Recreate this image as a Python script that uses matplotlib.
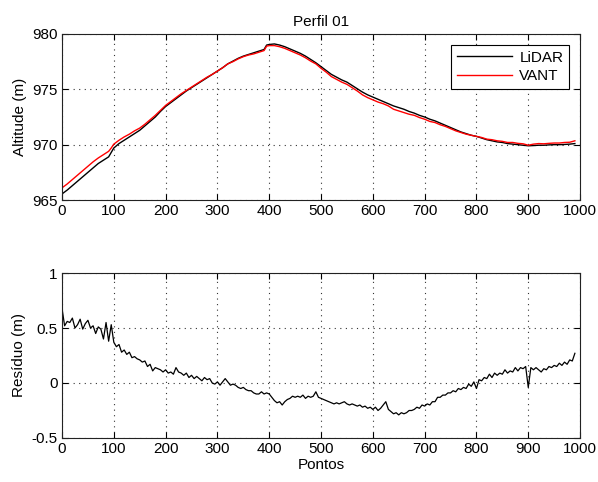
import numpy as np
import matplotlib
matplotlib.use("Agg")
import matplotlib.pyplot as plt

# ---------------- data ----------------
lidar_x = [0, 10, 20, 30, 40, 50, 60, 70, 80, 90, 95, 100, 110, 120, 130, 140, 150, 160, 170, 180, 190,
           200, 210, 220, 230, 240, 250, 260, 270, 280, 290, 300, 310, 320, 330, 340, 350, 360, 370, 380, 390,
           395, 400, 410, 420, 430, 440, 450, 460, 470, 480, 490, 500, 510, 520, 530, 540, 550, 560, 570, 580,
           590, 600, 610, 620, 630, 640, 650, 660, 670, 680, 690, 700, 710, 720, 730, 740, 750, 760, 770, 780,
           790, 800, 810, 820, 830, 840, 850, 860, 870, 880, 890, 900, 910, 920, 930, 940, 950, 960, 970, 980, 990]
lidar_y = [965.55, 965.9, 966.3, 966.7, 967.1, 967.5, 967.9, 968.3, 968.6, 968.9, 969.3, 969.7, 970.1, 970.4,
           970.7, 971.0, 971.3, 971.7, 972.1, 972.5, 973.0,
           973.45, 973.8, 974.15, 974.5, 974.85, 975.15, 975.45, 975.75, 976.05, 976.35, 976.65, 976.95, 977.3,
           977.55, 977.8, 978.0, 978.15, 978.3, 978.45, 978.6,
           979.0, 979.05, 979.1, 979.0, 978.85, 978.65, 978.45, 978.25, 978.0, 977.7, 977.4, 977.05, 976.7,
           976.35, 976.1, 975.85, 975.65, 975.35, 975.05, 974.75,
           974.5, 974.3, 974.1, 973.9, 973.7, 973.5, 973.35, 973.2, 973.0, 972.85, 972.65, 972.5, 972.3, 972.15,
           971.95, 971.75, 971.55, 971.35, 971.15, 971.0,
           970.85, 970.75, 970.6, 970.45, 970.35, 970.25, 970.2, 970.1, 970.05, 970.0, 969.95, 969.9, 969.92,
           969.95, 969.95, 969.98, 970.0, 970.0, 970.02, 970.05, 970.1]

vant_x = lidar_x
vant_y = [966.1, 966.45, 966.85, 967.25, 967.65, 968.05, 968.45, 968.8, 969.1, 969.4, 969.7, 970.05, 970.4,
          970.7, 970.95, 971.25, 971.5, 971.85, 972.25, 972.65, 973.1,
          973.55, 973.9, 974.25, 974.6, 974.9, 975.2, 975.5, 975.8, 976.1, 976.35, 976.65, 976.95, 977.3,
          977.5, 977.75, 977.95, 978.1, 978.2, 978.35, 978.5,
          978.9, 978.95, 978.95, 978.85, 978.7, 978.5, 978.3, 978.1, 977.85, 977.55, 977.3, 976.9, 976.55,
          976.15, 975.9, 975.65, 975.45, 975.15, 974.85, 974.5,
          974.25, 974.05, 973.85, 973.7, 973.5, 973.2, 973.05, 972.9, 972.75, 972.65, 972.45, 972.3, 972.1,
          972.0, 971.8, 971.65, 971.45, 971.25, 971.1, 970.95,
          970.85, 970.75, 970.65, 970.5, 970.45, 970.35, 970.3, 970.2, 970.2, 970.12, 970.08, 969.95, 970.05,
          970.1, 970.08, 970.12, 970.15, 970.15, 970.2, 970.22, 970.35]

residuo = [0.68, 0.52, 0.56, 0.55, 0.59, 0.50, 0.53, 0.58, 0.49, 0.54,
           0.57, 0.50, 0.52, 0.45, 0.51, 0.49, 0.40, 0.55, 0.38, 0.53,
           0.37, 0.33, 0.35, 0.28, 0.30, 0.26, 0.28, 0.23, 0.24, 0.22,
           0.21, 0.19, 0.20, 0.15, 0.17, 0.11, 0.14, 0.13, 0.12, 0.10,
           0.12, 0.09, 0.10, 0.08, 0.14, 0.10, 0.09, 0.07, 0.09, 0.05,
           0.07, 0.04, 0.06, 0.04, 0.02, 0.05, 0.03, 0.04, 0.00, -0.01,
           0.01, -0.02, 0.01, 0.04, 0.01, -0.02, -0.01, -0.02, -0.04, -0.05,
           -0.04, -0.06, -0.07, -0.07, -0.09, -0.10, -0.10, -0.08, -0.10, -0.09,
           -0.10, -0.13, -0.16, -0.18, -0.17, -0.20, -0.17, -0.15, -0.14, -0.12,
           -0.13, -0.12, -0.13, -0.11, -0.14, -0.12, -0.13, -0.12, -0.08, -0.13,
           -0.14, -0.15, -0.16, -0.17, -0.18, -0.19, -0.18, -0.19, -0.18, -0.17,
           -0.19, -0.20, -0.19, -0.20, -0.21, -0.20, -0.22, -0.21, -0.23, -0.22,
           -0.24, -0.22, -0.25, -0.23, -0.20, -0.17, -0.24, -0.26, -0.28, -0.27,
           -0.29, -0.27, -0.28, -0.27, -0.25, -0.25, -0.24, -0.22, -0.23, -0.20,
           -0.21, -0.19, -0.20, -0.17, -0.17, -0.13, -0.13, -0.11, -0.11, -0.09,
           -0.09, -0.07, -0.08, -0.05, -0.06, -0.04, -0.05, -0.01, -0.03, 0.01,
           -0.05, 0.03, 0.02, 0.05, 0.04, 0.08, 0.05, 0.09, 0.07, 0.09,
           0.08, 0.12, 0.09, 0.11, 0.10, 0.14, 0.11, 0.14, 0.13, 0.15,
           -0.04, 0.14, 0.12, 0.14, 0.12, 0.10, 0.13, 0.12, 0.15, 0.14,
           0.16, 0.15, 0.18, 0.16, 0.19, 0.17, 0.21, 0.20, 0.27]
residuo_x = np.arange(len(residuo)) * 5

xticks = [0, 100, 200, 300, 400, 500, 600, 700, 800, 900, 1000]
top_yticks = [965, 970, 975, 980]
bot_yticks = [-0.5, 0, 0.5, 1]

# ---------------- figure ----------------
plt.rcParams['font.family'] = ['Liberation Sans', 'DejaVu Sans']
plt.rcParams['font.size'] = 11

fig = plt.figure(figsize=(5.98, 4.82), dpi=100)
ax1 = fig.add_axes([0.1037, 0.585, 0.8663, 0.3445])
ax2 = fig.add_axes([0.1037, 0.0913, 0.8663, 0.3423])


def style(ax):
    ax.set_xlim(0, 1000)
    ax.set_xticks(xticks)
    ax.grid(True, linestyle=(0, (1, 4)), color='#333333', linewidth=0.8)
    ax.tick_params(direction='in', top=True, right=True, length=4, width=0.8,
                   labelsize=11, pad=3)
    for s in ax.spines.values():
        s.set_linewidth(0.8)
        s.set_color('#222222')


ax1.plot(lidar_x, lidar_y, color='black', linewidth=1.0, label='LiDAR')
ax1.plot(vant_x, vant_y, color='red', linewidth=1.0, label='VANT')
style(ax1)
ax1.set_ylim(965, 980)
ax1.set_yticks(top_yticks)
ax1.set_ylabel('Altitude (m)')
ax1.set_title('Perfil 01', fontsize=11, pad=6)
leg = ax1.legend(loc='upper right', fancybox=False, framealpha=1, edgecolor='black',
                 handlelength=3.6, borderaxespad=0.7, fontsize=11, borderpad=0.4,
                 labelspacing=0.3, handletextpad=0.5)
leg.get_frame().set_linewidth(0.8)

ax2.plot(residuo_x, residuo, color='black', linewidth=0.9)
style(ax2)
ax2.set_ylim(-0.5, 1)
ax2.set_yticks(bot_yticks)
ax2.set_yticklabels(['-0.5', '0', '0.5', '1'])
ax2.set_ylabel('Resíduo (m)')
ax2.set_xlabel('Pontos', labelpad=1)

fig.savefig('out.png', dpi=100)
